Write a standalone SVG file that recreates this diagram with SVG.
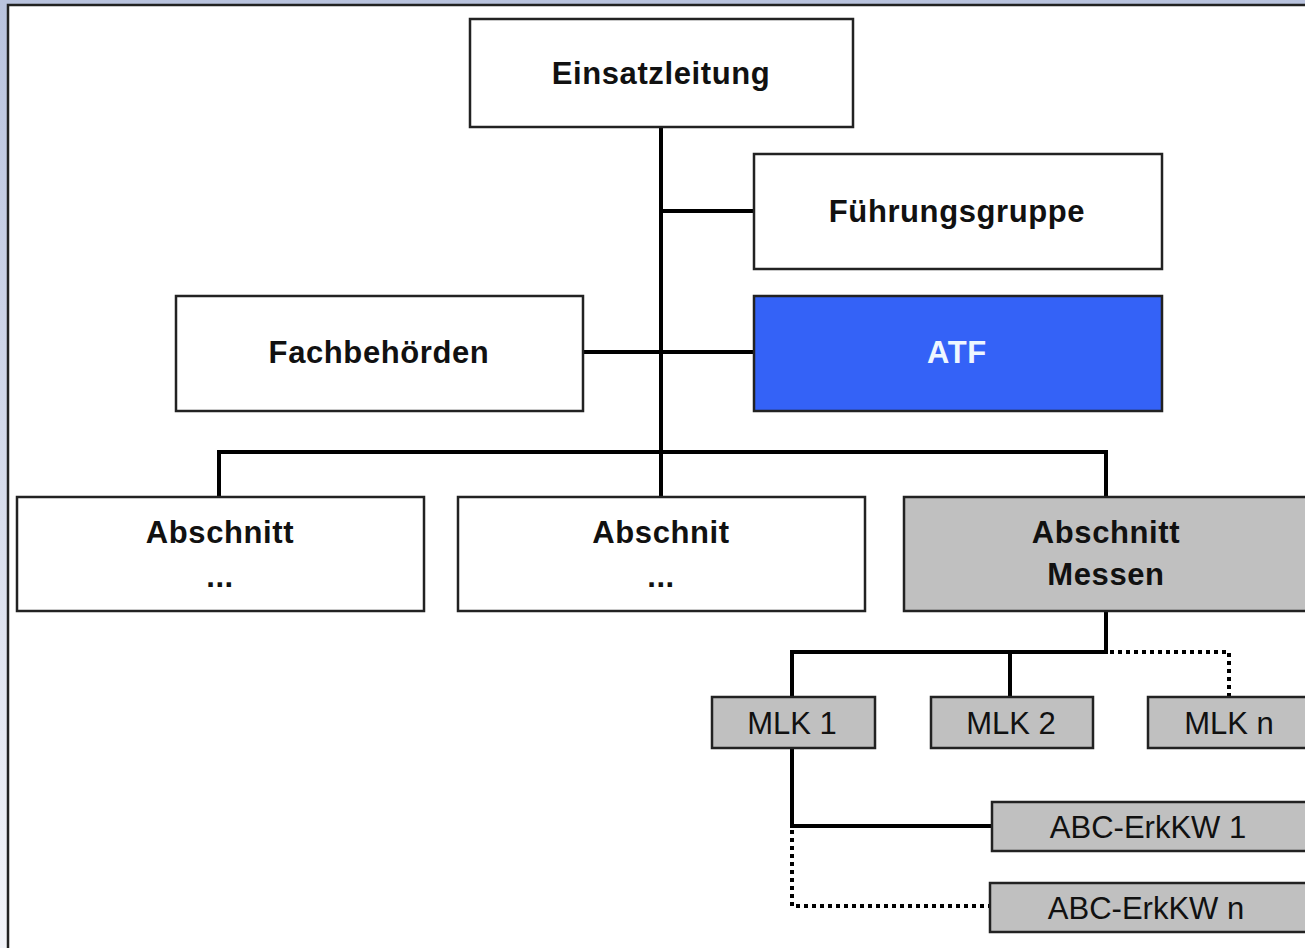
<svg xmlns="http://www.w3.org/2000/svg" width="1305" height="948" viewBox="0 0 1305 948">
<defs>
<linearGradient id="bg" x1="0" y1="0" x2="0" y2="1">
<stop offset="0" stop-color="#b9c3de"/>
<stop offset="1" stop-color="#f3f4f9"/>
</linearGradient>
<style>
.box{stroke:#222;stroke-width:2.5}
.w{fill:#fff}
.g{fill:#c0c0c0}
.b{fill:#3462f7}
.tb{font-family:"Liberation Sans",Arial,sans-serif;font-weight:bold;font-size:31px;letter-spacing:0.6px;fill:#111;text-anchor:middle}
.tr{font-family:"Liberation Sans",Arial,sans-serif;font-size:31px;fill:#111;text-anchor:middle}
.c{fill:none;stroke:#000;stroke-width:4}
.d{fill:none;stroke:#000;stroke-width:4;stroke-dasharray:4 4}
</style>
</defs>
<rect x="0" y="0" width="1305" height="948" fill="url(#bg)"/>
<rect x="8" y="5" width="1300" height="950" fill="#fff" stroke="#222" stroke-width="2.5"/>
<g id="connectors">
<path class="c" d="M661 127 V452 M661 211 H754 M583 352 H754 M219 497 V452 H1106 V497 M661 452 V497"/>
<path class="c" d="M1106 611 V652 H792 V697 M1010 652 V697"/>
<path class="d" d="M1110 652 H1229 V697"/>
<path class="c" d="M792 748 V826 H992"/>
<path class="d" d="M792 830 V906 H990"/>
</g>
<g id="einsatzleitung"><rect class="box w" x="470" y="19" width="383" height="108"/><text class="tb" x="661" y="84">Einsatzleitung</text></g>
<g id="fuehrungsgruppe"><rect class="box w" x="754" y="154" width="408" height="115"/><text class="tb" x="957" y="222">Führungsgruppe</text></g>
<g id="fachbehoerden"><rect class="box w" x="176" y="296" width="407" height="115"/><text class="tb" x="379" y="363">Fachbehörden</text></g>
<g id="atf"><rect class="box b" x="754" y="296" width="408" height="115" stroke="#1a1a40"/><text class="tb" x="957" y="363" style="fill:#eef6ff">ATF</text></g>
<g id="abschnitt1"><rect class="box w" x="17" y="497" width="407" height="114"/><text class="tb" x="220" y="543">Abschnitt</text><text class="tb" x="220" y="587">...</text></g>
<g id="abschnitt2"><rect class="box w" x="458" y="497" width="407" height="114"/><text class="tb" x="661" y="543">Abschnit</text><text class="tb" x="661" y="587">...</text></g>
<g id="abschnitt-messen"><rect class="box g" x="904" y="497" width="410" height="114"/><text class="tb" x="1106" y="543">Abschnitt</text><text class="tb" x="1106" y="585">Messen</text></g>
<g id="mlk1"><rect class="box g" x="712" y="697" width="163" height="51"/><text class="tr" x="792" y="734">MLK 1</text></g>
<g id="mlk2"><rect class="box g" x="931" y="697" width="162" height="51"/><text class="tr" x="1011" y="734">MLK 2</text></g>
<g id="mlkn"><rect class="box g" x="1148" y="697" width="170" height="51"/><text class="tr" x="1229" y="734">MLK n</text></g>
<g id="abc1"><rect class="box g" x="992" y="802" width="320" height="49"/><text class="tr" x="1148" y="838">ABC-ErkKW 1</text></g>
<g id="abcn"><rect class="box g" x="990" y="883" width="320" height="49"/><text class="tr" x="1146" y="919">ABC-ErkKW n</text></g>
</svg>
